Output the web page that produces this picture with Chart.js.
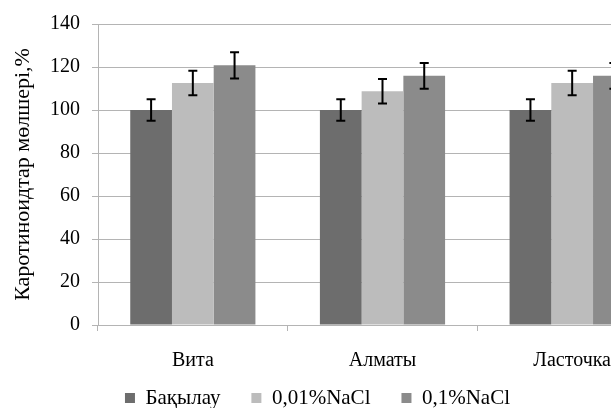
<!DOCTYPE html>
<html>
<head>
<meta charset="utf-8">
<script src="https://cdn.jsdelivr.net/npm/chart.js@4/dist/chart.umd.min.js"></script>
<style>
  html, body { margin: 0; padding: 0; background: #fff; overflow: hidden; }
</style>
</head>
<body>
<canvas id="barChart" width="700" height="408"></canvas>
<script>
const categories = ['Вита', 'Алматы', 'Ласточка'];
const seriesNames = ['Бақылау', '0,01%NaCl', '0,1%NaCl'];
const bakylau = [100, 100, 100];
const bakylauErr = [5, 5, 5];
const nacl001 = [112.6, 108.7, 112.6];
const nacl001Err = [5.7, 5.7, 5.7];
const nacl01 = [120.8, 115.9, 115.9];
const nacl01Err = [6.1, 6, 6];
const yTicks = [0, 20, 40, 60, 80, 100, 120, 140];

const serif = 'Liberation Serif, Times New Roman, serif';

// error bars drawn over each bar, using the y scale
const errorBars = {
    id: 'errorBars',
    afterDatasetsDraw(chart) {
        const ctx = chart.ctx;
        const y = chart.scales.y;
        ctx.save();
        ctx.strokeStyle = '#000';
        ctx.lineWidth = 2;
        chart.data.datasets.forEach((ds, i) => {
            chart.getDatasetMeta(i).data.forEach((bar, j) => {
                const v = ds.data[j], e = ds.errors[j];
                const top = y.getPixelForValue(v + e);
                const bot = y.getPixelForValue(v - e);
                ctx.beginPath();
                ctx.moveTo(bar.x, top); ctx.lineTo(bar.x, bot);
                ctx.moveTo(bar.x - 4.5, top); ctx.lineTo(bar.x + 4.5, top);
                ctx.moveTo(bar.x - 4.5, bot); ctx.lineTo(bar.x + 4.5, bot);
                ctx.stroke();
            });
        });
        ctx.restore();
    }
};

// the original picture is cropped on the right, so the legend sits left of canvas centre
const legendNudge = {
    id: 'legendNudge',
    afterLayout(chart) {
        const lg = chart.legend;
        lg.left -= 16; lg.right -= 16;
        lg.top -= 18.5; lg.bottom = chart.height;
    }
};

const ctx = document.getElementById('barChart').getContext('2d');

const chart = new Chart(ctx, {
    type: 'bar',
    data: {
        labels: categories,
        datasets: [
            { label: seriesNames[0], data: bakylau, errors: bakylauErr, backgroundColor: '#6d6d6d' },
            { label: seriesNames[1], data: nacl001, errors: nacl001Err, backgroundColor: '#bcbcbc' },
            { label: seriesNames[2], data: nacl01, errors: nacl01Err, backgroundColor: '#8b8b8b' }
        ]
    },
    options: {
        responsive: false,
        animation: false,
        categoryPercentage: 0.66,
        barPercentage: 1,
        layout: { padding: { left: 0, right: 33, top: 24, bottom: 0 } },
        scales: {
            x: {
                grid: { drawOnChartArea: false, color: '#b4b4b4', tickLength: 6 },
                border: { color: '#b4b4b4' },
                ticks: { color: '#000', font: { family: serif, size: 20 }, padding: 18 },
                afterFit: s => { s.height = 50; }
            },
            y: {
                min: 0,
                max: 140,
                afterBuildTicks: s => { s.ticks = yTicks.map(v => ({ value: v })); },
                grid: { color: '#b4b4b4', tickLength: 6 },
                border: { color: '#b4b4b4' },
                ticks: { color: '#000', font: { family: serif, size: 20 }, padding: 12 },
                title: {
                    display: true,
                    text: 'Каротиноидтар мөлшері,%',
                    color: '#000',
                    font: { family: serif, size: 22 },
                    padding: { top: 10, bottom: 0 }
                },
                afterFit: s => { s.width = 98; }
            }
        },
        plugins: {
            legend: {
                position: 'bottom',
                maxHeight: 33,
                labels: {
                    boxWidth: 10,
                    boxHeight: 10,
                    padding: 31,
                    color: '#000',
                    font: { family: serif, size: 21 }
                }
            },
            tooltip: { enabled: false }
        }
    },
    plugins: [errorBars, legendNudge]
});
</script>
</body>
</html>
